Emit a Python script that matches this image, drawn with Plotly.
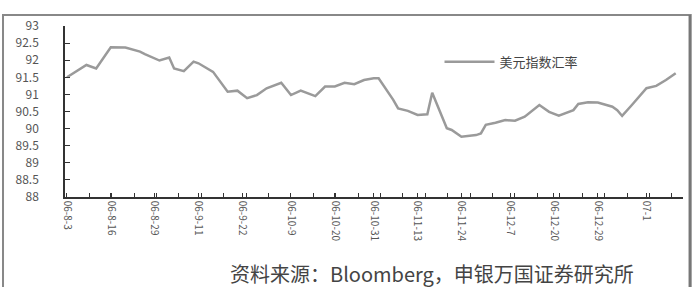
import plotly.graph_objects as go

# Trading-day index and US dollar index values
day = [0, 4, 6, 9, 12, 15, 16, 19, 21, 22, 24, 26, 27, 30, 33, 35, 37, 39, 41, 44,
       46, 48, 51, 53, 55, 57, 59, 61, 63, 64, 67, 68, 70, 72, 74, 75, 78, 79, 81, 84,
       85, 86, 88, 90, 92, 94, 97, 99, 101, 104, 105, 107, 109, 112, 113, 114, 116, 118,
       119, 121, 123, 125]
usd_index = [91.50, 91.86, 91.76, 92.38, 92.37, 92.25, 92.18, 91.99, 92.08, 91.76, 91.68,
             91.96, 91.91, 91.66, 91.08, 91.11, 90.89, 90.98, 91.18, 91.34, 90.98, 91.11,
             90.95, 91.23, 91.23, 91.34, 91.30, 91.42, 91.47, 91.47, 90.84, 90.59, 90.52,
             90.40, 90.42, 91.05, 90.01, 89.96, 89.76, 89.81, 89.86, 90.11, 90.17, 90.25,
             90.23, 90.35, 90.69, 90.49, 90.38, 90.54, 90.72, 90.77, 90.76, 90.64, 90.54,
             90.37, 90.69, 91.03, 91.18, 91.25, 91.42, 91.62]

tick_days = [0, 9, 18, 27, 36, 46, 55, 63, 72, 81, 91, 100, 109, 119]
tick_labels = ["06-8-3", "06-8-16", "06-8-29", "06-9-11", "06-9-22", "06-10-9",
               "06-10-20", "06-10-31", "06-11-13", "06-11-24", "06-12-7",
               "06-12-20", "06-12-29", "07-1"]
y_ticks = [88, 88.5, 89, 89.5, 90, 90.5, 91, 91.5, 92, 92.5, 93]

legend_name = "美元指数汇率"
source_text = "资料来源：Bloomberg，申银万国证券研究所"

fig = go.Figure()
fig.add_trace(go.Scatter(x=day, y=usd_index, mode="lines", name=legend_name,
                         line=dict(color="#9a9a9a", width=2.5)))

font_family = "Noto Sans CJK SC, DejaVu Sans, sans-serif"

fig.update_layout(
    width=698, height=287,
    margin=dict(l=65, r=15, t=26, b=90),
    paper_bgcolor="white", plot_bgcolor="white",
    font=dict(family=font_family, size=11, color="#555"),
    showlegend=True,
    legend=dict(x=0.606, y=0.79, xanchor="left", yanchor="middle",
                bgcolor="rgba(0,0,0,0)", font=dict(size=13, color="#444"),
                itemwidth=50),
    xaxis=dict(range=[-0.4, 126.5], tickmode="array", tickvals=tick_days,
               ticktext=tick_labels, tickangle=90, ticks="inside", ticklen=4,
               tickcolor="#333", showline=True, linecolor="#333", linewidth=1.5,
               showgrid=False, zeroline=False, mirror=False,
               minor=dict(ticks="inside", ticklen=4, tickcolor="#333",
                          tick0=0, dtick=4.6, showgrid=False),
               tickfont=dict(size=10, color="#555")),
    yaxis=dict(range=[88, 93], tickmode="array", tickvals=y_ticks,
               ticktext=[f"{v:g}" for v in y_ticks], ticks="inside", ticklen=5,
               tickcolor="#333", showline=True, linecolor="#333", linewidth=1.5,
               showgrid=False, zeroline=False, ticklabelstandoff=22,
               tickfont=dict(size=12, color="#555")),
    shapes=[dict(type="rect", xref="paper", yref="paper",
                 x0=-0.1003, x1=1.0125, y0=-0.62, y1=1.064,
                 line=dict(color="#888", width=2), fillcolor="rgba(0,0,0,0)",
                 layer="above"),
            dict(type="line", xref="paper", yref="paper",
                 x0=1.011, x1=1.011, y0=-0.62, y1=1.064,
                 line=dict(color="#777", width=2.5), layer="above")],
    annotations=[dict(text=source_text, xref="paper", yref="paper",
                      x=0.594, y=-0.45, xanchor="center", yanchor="middle",
                      showarrow=False, font=dict(size=20, color="#444"))],
)

fig.write_html("out.html", config={"displayModeBar": False},
               post_script="document.body.style.margin='0';"
                           "document.body.style.overflow='hidden';")
